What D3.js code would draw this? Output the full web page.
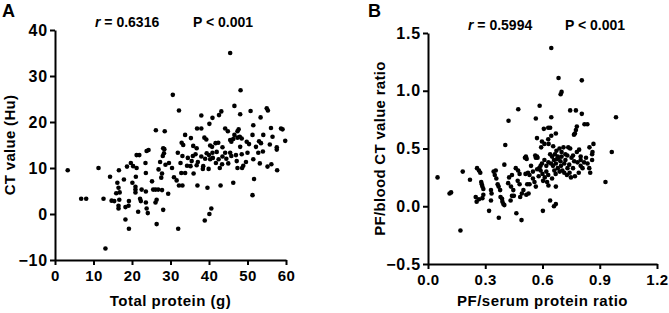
<!DOCTYPE html>
<html>
<head>
<meta charset="utf-8">
<script src="https://cdn.jsdelivr.net/npm/d3@7"></script>
<style>
  body { margin: 0; background: #fff; }
  text { font-family: 'Liberation Sans', Arial, sans-serif; font-weight: bold; }
</style>
</head>
<body>
<script>
// panel A: total protein (g) vs CT value (Hu)
const proteinVsCt = [
  [3.3, 9.5], [6.8, 3.3], [8.1, 3.3], [11.3, 10.0], [12.6, 3.3], [13.1, -7.5], [14.3, 8.1], [14.7, 2.9],
  [15.4, 2.8], [15.9, 4.5], [16.2, 6.8], [16.6, 9.5], [16.5, 5.7], [16.8, 4.7], [16.5, 1.8], [16.5, 1.2],
  [16.7, 3.1], [17.9, 7.5], [18.3, 1.5], [18.3, -1.2], [18.7, 10.3], [19.1, 1.8], [19.2, 2.8], [19.2, -3.2],
  [19.7, 11.1], [20.1, 6.8], [20.3, 10.4], [20.9, 4.7], [20.9, 5.3], [20.9, 5.9], [21.0, 8.1], [21.2, 10.0],
  [21.2, 12.8], [21.6, 0.5], [21.9, 12.8], [22.1, 3.3], [22.3, 2.8], [22.5, 5.3], [23.5, 11.1], [23.6, 8.9],
  [23.6, 4.9], [23.6, 2.5], [23.8, 1.2], [24.1, 0.2], [23.8, 13.7], [25.2, 7.1], [25.5, 5.3], [26.1, 5.3],
  [26.8, 5.3], [26.1, 2.5], [26.4, 3.1], [26.4, -2.2], [26.9, 9.7], [27.3, 11.3], [27.6, 7.9], [27.8, 8.8],
  [27.8, 5.2], [28.1, 0.9], [28.0, 12.6], [28.3, 13.2], [28.7, 10.7], [29.4, 4.4], [29.6, 11.1], [30.4, 10.0],
  [30.9, 8.0], [31.6, 7.3], [31.9, 13.3], [32.0, -3.2], [32.2, 6.2], [33.1, 6.2], [32.6, 11.1], [32.8, 8.9],
  [33.8, 8.9], [33.1, 12.6], [34.3, 10.5], [35.2, 10.4], [35.8, 12.6], [36.0, 8.8], [37.0, 6.2], [37.1, 11.3],
  [38.4, 9.8], [38.5, 10.4], [38.9, -1.4], [39.4, 13.2], [39.6, 5.7], [39.9, 9.8], [40.1, 0.0], [40.6, 1.2],
  [40.3, 11.9], [40.9, 13.3], [41.8, 11.1], [42.5, 11.9], [43.0, 6.2], [43.4, 10.8], [44.2, 13.3], [45.5, 13.3],
  [46.3, 6.8], [47.2, 11.5], [47.4, 10.0], [48.6, 10.0], [48.9, 10.5], [49.6, 11.3], [50.0, 13.3], [51.3, 4.1],
  [51.7, 7.6], [51.5, 11.9], [52.8, 13.3], [53.2, 11.0], [55.2, 10.3], [56.2, 10.8], [57.7, 9.5],
  [34.5, 12.2], [35.5, 11.5], [36.5, 13.0], [38.0, 12.5], [39.0, 12.0], [40.0, 12.8], [41.0, 12.2], [42.0, 13.5],
  [43.5, 12.5], [44.5, 12.0], [45.8, 12.6], [47.0, 12.8], [48.5, 13.0], [54.0, 13.6], [57.6, 14.0], [36.8, 10.6],
  [42.8, 10.0], [45.0, 11.0],
  [26.2, 18.2], [28.5, 18.0], [33.8, 17.2], [36.9, 18.6], [38.0, 18.6], [32.9, 15.5], [33.3, 15.0], [28.1, 14.3],
  [28.4, 14.1], [24.3, 13.9], [35.3, 16.5], [35.9, 14.8], [36.8, 14.3], [38.8, 16.6], [39.3, 16.2], [40.1, 19.6],
  [40.9, 20.9], [42.6, 21.5], [43.2, 22.3], [38.0, 21.4], [40.3, 14.9], [40.8, 14.6], [41.7, 15.4], [42.4, 15.5],
  [44.2, 18.6], [44.9, 18.0], [45.5, 16.1], [45.8, 15.7], [46.3, 16.3], [46.6, 17.2], [47.4, 18.0], [47.7, 18.4],
  [47.4, 16.6], [48.0, 16.8], [48.5, 16.4], [49.8, 15.7], [50.4, 15.2], [51.3, 17.2], [51.5, 19.3], [52.2, 14.6],
  [53.4, 21.0], [54.1, 17.2], [55.0, 23.0], [55.3, 22.5], [55.8, 15.1], [56.1, 18.7], [56.5, 16.8], [58.7, 18.6],
  [59.1, 18.4], [59.8, 15.9], [57.6, 14.5], [53.0, 15.8], [53.5, 15.4], [48.1, 14.6], [43.5, 14.5], [45.5, 35.0],
  [48.2, 26.9], [30.6, 25.9], [32.2, 22.5], [46.6, 23.5], [48.1, 21.7], [50.8, 22.4]
]

// panel B: PF/serum protein ratio vs PF/blood CT value ratio
const ratioVsRatio = [
  [0.646, 1.37], [0.684, 1.11], [0.806, 1.09], [0.70, 0.99], [0.695, 0.97], [0.473, 0.84], [0.585, 0.87],
  [0.422, 0.74], [0.565, 0.76], [0.646, 0.77], [0.745, 0.83], [0.775, 0.83], [0.806, 0.80], [0.985, 0.77],
  [0.82, 0.71], [0.835, 0.71], [0.78, 0.69], [0.775, 0.66], [0.77, 0.63], [0.765, 0.62], [0.571, 0.59],
  [0.597, 0.56], [0.607, 0.67], [0.63, 0.68], [0.64, 0.68], [0.646, 0.61], [0.670, 0.63], [0.405, 0.53],
  [0.513, 0.43], [0.562, 0.44], [0.571, 0.43], [0.593, 0.51], [0.632, 0.54], [0.656, 0.52], [0.673, 0.48],
  [0.689, 0.50], [0.71, 0.51], [0.735, 0.51], [0.745, 0.50], [0.78, 0.47], [0.792, 0.49], [0.846, 0.51],
  [0.867, 0.54], [0.862, 0.47], [0.963, 0.47], [0.665, 0.45], [0.68, 0.43], [0.65, 0.43], [0.72, 0.45],
  [0.76, 0.44], [0.80, 0.43], [0.70, 0.43], [0.61, 0.54], [0.63, 0.58],
  [0.05, 0.25], [0.113, 0.11], [0.121, 0.12], [0.17, -0.21], [0.182, 0.30], [0.22, 0.23], [0.257, 0.33],
  [0.267, 0.31], [0.274, 0.29], [0.25, 0.08], [0.255, 0.04], [0.267, 0.06], [0.279, 0.21], [0.282, 0.19],
  [0.285, 0.17], [0.29, 0.15], [0.29, 0.10], [0.285, 0.07], [0.32, -0.04], [0.33, 0.14], [0.333, 0.11],
  [0.33, 0.05], [0.344, 0.30], [0.35, 0.27], [0.358, 0.24], [0.355, 0.31], [0.365, 0.19], [0.37, 0.17],
  [0.378, 0.14], [0.38, 0.08], [0.388, 0.065], [0.371, -0.10], [0.39, 0.04], [0.395, 0.02], [0.40, 0.36],
  [0.40, 0.01], [0.425, 0.25], [0.44, 0.27], [0.435, 0.17], [0.447, 0.14], [0.45, 0.09], [0.433, 0.05],
  [0.44, 0.09], [0.463, -0.06], [0.46, 0.33], [0.472, 0.31], [0.48, 0.28], [0.483, 0.08], [0.492, 0.11],
  [0.50, 0.14], [0.49, -0.12], [0.508, 0.42], [0.517, 0.41], [0.511, 0.28], [0.524, 0.29], [0.532, 0.27],
  [0.52, 0.19], [0.532, 0.19], [0.527, 0.11], [0.515, 0.10], [0.55, 0.24], [0.558, 0.21], [0.565, 0.17],
  [0.565, 0.42], [0.574, 0.42], [0.572, 0.32], [0.583, 0.33], [0.59, 0.35], [0.597, 0.37], [0.602, -0.04],
  [0.603, 0.22], [0.612, 0.25], [0.624, 0.21], [0.631, 0.18], [0.631, 0.38], [0.645, 0.37], [0.655, 0.35],
  [0.662, 0.31], [0.669, 0.28], [0.64, 0.05], [0.66, 0.00], [0.67, 0.02], [0.67, 0.17], [0.677, 0.41],
  [0.685, 0.42], [0.694, 0.39], [0.69, 0.30], [0.704, 0.31], [0.714, 0.29], [0.728, 0.27], [0.742, 0.29],
  [0.697, 0.35], [0.714, 0.37], [0.731, 0.33], [0.752, 0.42], [0.766, 0.39], [0.783, 0.38], [0.80, 0.40],
  [0.749, 0.25], [0.77, 0.26], [0.79, 0.29], [0.818, 0.38], [0.828, 0.42], [0.836, 0.37], [0.845, 0.33],
  [0.85, 0.29], [0.93, 0.21], [0.80, 0.35], [0.81, 0.33], [0.86, 0.40], [0.86, 0.45], [0.62, 0.30],
  [0.63, 0.27], [0.65, 0.24], [0.60, 0.28], [0.58, 0.26], [0.68, 0.33], [0.72, 0.40], [0.66, 0.40],
  [0.61, 0.40], [0.64, 0.45], [0.67, 0.37], [0.70, 0.47], [0.73, 0.44], [0.74, 0.36], [0.76, 0.33],
  [0.62, 0.35], [0.59, 0.31], [0.55, 0.30], [0.54, 0.35], [0.48, 0.19], [0.42, 0.20], [0.47, 0.22]
]

const ticksAx = [0, 10, 20, 30, 40, 50, 60]
const ticksAy = [-10, 0, 10, 20, 30, 40]
const ticksBx = [0, 0.3, 0.6, 0.9, 1.2]
const ticksBy = [-0.5, 0, 0.5, 1.0, 1.5]

const svg = d3.select('body').append('svg')
  .attr('width', 669)
  .attr('height', 313)

function styleTicks (g, size, spacing) {
  g.select('.domain').attr('stroke', '#000').attr('stroke-width', 2)
  g.selectAll('.tick line').attr('stroke', '#000').attr('stroke-width', 2)
  g.selectAll('.tick text')
    .attr('fill', '#000')
    .style('font-size', size)
    .style('letter-spacing', spacing)
    .style('font-family', "'Liberation Sans', Arial, sans-serif")
    .style('font-weight', 'bold')
}

function drawPanel (p) {
  const x = d3.scaleLinear().domain(p.xDomain).range([p.left, p.right])
  const y = d3.scaleLinear().domain(p.yDomain).range([p.bottom, p.top])

  const xAxis = d3.axisBottom(x).tickValues(p.xTicks).tickFormat(p.fmt).tickSize(5).tickSizeOuter(0).tickPadding(5)
  const yAxis = d3.axisLeft(y).tickValues(p.yTicks).tickFormat(p.fmt).tickSize(5).tickSizeOuter(0).tickPadding(2)

  const gx = svg.append('g')
    .attr('transform', 'translate(0,' + p.bottom + ')')
    .call(xAxis)
  const gy = svg.append('g')
    .attr('transform', 'translate(' + p.left + ',0)')
    .call(yAxis)

  styleTicks(gx, '15px', '0.5px')
  styleTicks(gy, '16px', '0.8px')

  svg.append('g')
    .selectAll('circle')
    .data(p.points)
    .enter()
    .append('circle')
    .attr('cx', function (d) { return x(d[0]) })
    .attr('cy', function (d) { return y(d[1]) })
    .attr('r', 2.3)
    .attr('fill', '#000')

  svg.append('text')
    .attr('x', (p.left + p.right) / 2)
    .attr('y', 306)
    .attr('text-anchor', 'middle')
    .style('font-size', '15px')
    .style('letter-spacing', '0.5px')
    .text(p.xTitle)

  svg.append('text')
    .attr('transform', 'translate(' + p.yTitleX + ',' + (p.top + p.bottom) / 2 + ') rotate(-90)')
    .attr('text-anchor', 'middle')
    .style('font-size', '15px')
    .style('letter-spacing', '0.3px')
    .text(p.yTitle)

  svg.append('text')
    .attr('x', p.labelX)
    .attr('y', 17)
    .style('font-size', '18px')
    .text(p.label)

  const r = svg.append('text')
    .attr('x', p.rX)
    .attr('y', p.annY)
    .style('font-size', '14px')
  r.append('tspan').style('font-style', 'italic').text('r')
  r.append('tspan').text(' = ' + p.r)

  svg.append('text')
    .attr('x', p.pX)
    .attr('y', p.annY)
    .style('font-size', '14px')
    .text('P < 0.001')
}

drawPanel({
  points: proteinVsCt,
  xDomain: [0, 60],
  yDomain: [-10, 40],
  xTicks: ticksAx,
  yTicks: ticksAy,
  fmt: d3.format('d'),
  left: 55,
  right: 286,
  top: 30,
  bottom: 260,
  xTitle: 'Total protein (g)',
  yTitle: 'CT value (Hu)',
  yTitleX: 15,
  label: 'A',
  labelX: 2,
  r: '0.6316',
  rX: 95,
  pX: 193,
  annY: 27
})

drawPanel({
  points: ratioVsRatio,
  xDomain: [0, 1.2],
  yDomain: [-0.5, 1.5],
  xTicks: ticksBx,
  yTicks: ticksBy,
  fmt: d3.format('.1f'),
  left: 428,
  right: 657,
  top: 33,
  bottom: 264,
  xTitle: 'PF/serum protein ratio',
  yTitle: 'PF/blood CT value ratio',
  yTitleX: 385,
  label: 'B',
  labelX: 368,
  r: '0.5994',
  rX: 468,
  pX: 565,
  annY: 30
})
</script>
</body>
</html>
